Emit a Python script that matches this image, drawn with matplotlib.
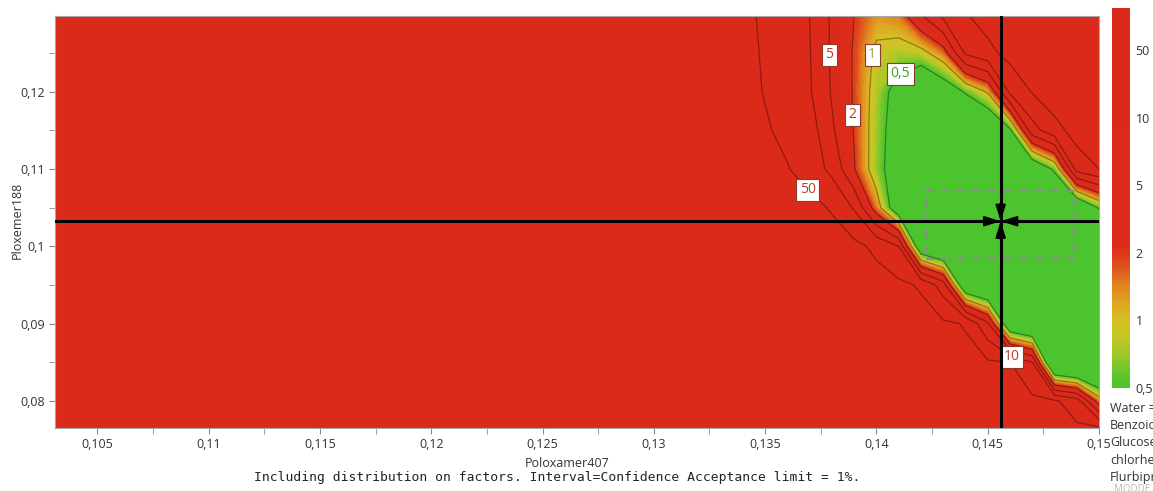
import numpy as np
import matplotlib
matplotlib.use('Agg')
import matplotlib.pyplot as plt
from matplotlib.colors import LinearSegmentedColormap, Normalize
from matplotlib.patches import Rectangle
from matplotlib.ticker import MultipleLocator, FuncFormatter
import matplotlib.cm as cm

# grid of the response surface (values in %), rows bottom -> top
poloxamer407 = [0.1031, 0.125, 0.130, 0.133, 0.135, 0.136, 0.137, 0.138, 0.139, 0.140,
                0.141, 0.142, 0.143, 0.144, 0.145, 0.146, 0.147, 0.148, 0.149, 0.150]
ploxemer188 = [0.0765, 0.08, 0.085, 0.09, 0.095, 0.10, 0.105, 0.11, 0.115, 0.12, 0.125, 0.13]
risk = [
    [100, 100, 100, 100, 100, 100, 100, 100, 100, 100, 93, 87, 81, 76, 71, 66, 62, 59, 55, 55],
    [100, 100, 100, 100, 100, 100, 100, 100, 100, 93, 87, 81, 76, 71, 66, 62, 57, 55, 22, 1.41],
    [100, 100, 100, 100, 100, 100, 100, 100, 93, 87, 78, 71, 64, 57, 54, 50, 10, 0.088, 0.0625, 0.0625],
    [100, 100, 100, 100, 100, 100, 100, 93, 84, 76, 68, 62, 55.5, 46, 5.7, 0.2, 0.125, 0.125, 0.125, 0.125],
    [100, 100, 100, 100, 100, 100, 93, 84, 73, 64, 57, 43, 7.1, 0.2, 0.125, 0.125, 0.125, 0.125, 0.125, 0.125],
    [100, 100, 100, 100, 100, 93, 81, 68, 59.5, 36, 10, 0.22, 0.125, 0.125, 0.125, 0.125, 0.125, 0.125, 0.125, 0.125],
    [100, 100, 100, 100, 93, 76, 62, 43, 9.3, 1.41, 0.25, 0.125, 0.125, 0.125, 0.125, 0.125, 0.125, 0.125, 0.177, 0.54],
    [100, 100, 100, 87, 64, 52, 24, 8.4, 2.1, 0.68, 0.29, 0.125, 0.125, 0.125, 0.125, 0.125, 0.22, 0.57, 19, 50],
    [100, 100, 100, 76, 54, 33, 22, 5.5, 1.93, 0.71, 0.31, 0.125, 0.125, 0.125, 0.177, 0.435, 7.6, 28, 66, 93],
    [100, 100, 100, 81, 46, 21, 11.7, 4.6, 1.87, 0.76, 0.354, 0.177, 0.29, 0.54, 1.07, 13.8, 52, 76, 100, 100],
    [100, 100, 100, 76, 43, 21, 10.8, 4.4, 1.87, 0.87, 0.76, 0.81, 1.46, 12.5, 33, 62, 100, 100, 100, 100],
    [100, 100, 100, 76, 39, 20, 10, 4.4, 2.0, 1.32, 1.52, 5.0, 16, 46, 66, 100, 100, 100, 100, 100],
]

contourLevels = [0.5, 1, 2, 5, 10, 50]
levelLabels = ['0,5', '1', '2', '5', '10', '50']
labelColors = ['#3c9e2a', '#98a832', '#c0392f', '#c0392f', '#c0392f', '#c0392f']
labelSpots = [(0.14112, 0.12208), (0.13986, 0.1248), (0.13874, 0.11701),
              (0.1377, 0.1248), (0.14615, 0.08660), (0.13694, 0.1074)]
setpoint = (0.14558, 0.10325)
robustBox = (0.14223, 0.09831, 0.14893, 0.10714)
factorNotes = ['Water =', 'Benzoic', 'Glucose', 'chlorhe', 'Flurbipr']

# MODDE spaces the colour levels evenly -> work on level index
scaleRef = [0.0625, 0.5, 1, 2, 5, 10, 50, 100]
scaleIdx = [-3, 0, 1, 2, 3, 4, 5, 6]
topIdx = 5.63

def toIdx(v):
    return np.interp(np.log10(v), np.log10(scaleRef), scaleIdx)

X, Y = np.meshgrid(poloxamer407, ploxemer188)
U = toIdx(np.array(risk))

anchors = [(0.0, '#4cc42d'), (0.15, '#58c42d'), (0.45, '#96c82a'), (0.75, '#c4c826'),
           (1.0, '#d6c023'), (1.25, '#dea521'), (1.5, '#e3851f'), (1.8, '#df501d'),
           (2.1, '#dc2b1a'), (topIdx, '#dc2a1a')]
cmap = LinearSegmentedColormap.from_list('risk', [(a / topIdx, c) for a, c in anchors])
cmap.set_under('#4cc42d')
cmap.set_over('#dc2a1a')
norm = Normalize(0, topIdx)

plt.rcParams['font.family'] = ['Open Sans', 'DejaVu Sans']
fig = plt.figure(figsize=(11.53, 4.91), dpi=100)
ax = fig.add_axes([0.0477, 0.1283, 0.9055, 0.8391])

fillLevels = np.concatenate([np.linspace(0, 2.5, 26), [topIdx]])
ax.contourf(X, Y, U, levels=fillLevels, cmap=cmap, norm=norm, extend='both')

for i, lv in enumerate(contourLevels):
    cs = ax.contour(X, Y, U, levels=[toIdx(lv)], colors='k', alpha=0.35, linewidths=0.9)
    texts = ax.clabel(cs, fmt={cs.levels[0]: levelLabels[i]}, manual=[labelSpots[i]],
                      inline=True, inline_spacing=2, fontsize=10, colors=labelColors[i])
    for t in texts:
        t.set_rotation(0)
        t.set_alpha(1)
        t.set_bbox(dict(facecolor='white', edgecolor='#8a3a30', lw=0.8, pad=2.5))

ax.add_patch(Rectangle((robustBox[0], robustBox[1]), robustBox[2] - robustBox[0],
                       robustBox[3] - robustBox[1], fill=False, ec='#8c8c8c',
                       lw=1.6, ls=(0, (4, 3)), zorder=4))

ax.axvline(setpoint[0], color='black', lw=2.2, zorder=5)
ax.axhline(setpoint[1], color='black', lw=2.2, zorder=5)
for dx, dy in [(-1, 0), (1, 0), (0, 1), (0, -1)]:
    ax.annotate('', xy=setpoint, xytext=(dx * 13, dy * 13), textcoords='offset points',
                arrowprops=dict(arrowstyle='-|>,head_length=0.95,head_width=0.3',
                                color='black', lw=1.5, shrinkA=0, shrinkB=0), zorder=6)

ax.set_xlim(0.1031, 0.15)
ax.set_ylim(0.0765, 0.1298)
fmt = FuncFormatter(lambda v, p: ('%g' % round(v, 4)).replace('.', ','))
ax.xaxis.set_major_locator(MultipleLocator(0.005))
ax.xaxis.set_minor_locator(MultipleLocator(0.0025))
ax.yaxis.set_major_locator(MultipleLocator(0.01))
ax.yaxis.set_minor_locator(MultipleLocator(0.005))
ax.xaxis.set_major_formatter(fmt)
ax.yaxis.set_major_formatter(fmt)
ax.tick_params(which='both', length=4, color='#8a8a8a', labelsize=9, labelcolor='#333333')
ax.tick_params(axis='x', pad=3)
for s in ax.spines.values():
    s.set_color('#a8a8a8')

fig.text(0.4918, 0.055, 'Poloxamer407', ha='center', va='center', fontsize=9, color='#333333')
fig.text(0.0147, 0.552, 'Ploxemer188', ha='center', va='center', rotation=90,
         fontsize=9, color='#333333')
fig.text(0.483, 0.0265, 'Including distribution on factors. Interval=Confidence Acceptance limit = 1%.',
         ha='center', va='center', fontsize=9.4, family='DejaVu Sans Mono', color='#222222')

cax = fig.add_axes([0.9644, 0.2098, 0.0156, 0.774])
cb = fig.colorbar(cm.ScalarMappable(norm=norm, cmap=cmap), cax=cax,
                  ticks=[toIdx(v) for v in contourLevels])
cb.set_ticklabels(levelLabels)
cb.outline.set_visible(False)
cax.tick_params(length=0, labelsize=9, labelcolor='#333333', pad=4)

for k, note in enumerate(factorNotes):
    fig.text(0.9627, 0.169 - k * 0.0356, note, ha='left', va='center', fontsize=9, color='#333333')
fig.text(0.966, 0.004, 'MODDE', ha='left', va='center', fontsize=7, color='#b8b8b8')

fig.savefig('out.png', dpi=100)
